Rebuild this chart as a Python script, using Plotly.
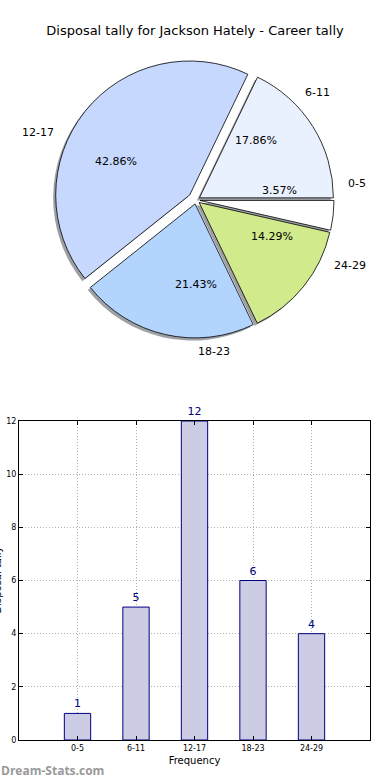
import math
import plotly.graph_objects as go

categories = ["0-5", "6-11", "12-17", "18-23", "24-29"]
tally = [1, 5, 12, 6, 4]
pie_colors = ["#ffffff", "#eaf1fe", "#c6d8fe", "#b3d4fd", "#d0ea8c"]
pulls = [0.03, 0.03, 0.06, 0.03, 0.03]
title_text = "Disposal tally for Jackson Hately - Career tally"

FONT = "DejaVu Sans"
W, H = 390, 780
ML = 19
MR = W - 370
MT = 0
MB = H - 740
PW, PH = W - ML - MR, H - MT - MB


def px_x(sx):
    return (sx - ML) / PW


def px_y(sy):
    return (H - MB - sy) / PH


# pie geometry (screen pixels -> paper)
cx_px, cy_px, r_px = 196, 200, 134
maxpull = max(pulls)
half_px = r_px * (1 + maxpull)
pcx, pcy = px_x(cx_px), px_y(cy_px)
hx, hy = half_px / PW, half_px / PH
pie_dom = dict(x=[pcx - hx, pcx + hx], y=[pcy - hy, pcy + hy])
sdx, sdy = -2.6 / PW, -2.6 / PH
shadow_dom = dict(x=[pcx - hx + sdx, pcx + hx + sdx], y=[pcy - hy + sdy, pcy + hy + sdy])

# text axes: same centre, 1 unit = pie radius, wide enough to hold the labels
lim = 1.25
tx, ty = r_px * lim / PW, r_px * lim / PH
text_dom = dict(x=[pcx - tx, pcx + tx], y=[pcy - ty, pcy + ty])

fig = go.Figure()

# shadow
fig.add_trace(go.Pie(
    values=tally, labels=categories, sort=False, direction="counterclockwise",
    rotation=90, pull=pulls, domain=shadow_dom, textinfo="none", hoverinfo="skip",
    marker=dict(colors=["rgba(60,65,75,0.5)"] * len(tally), line=dict(width=0)),
    showlegend=False))

fig.add_trace(go.Pie(
    values=tally, labels=categories, sort=False, direction="counterclockwise",
    rotation=90, pull=pulls, domain=pie_dom, textinfo="none",
    marker=dict(colors=pie_colors, line=dict(color="black", width=0.8)),
    showlegend=False))

# bar chart
xpos = list(range(len(categories)))
fig.add_trace(go.Bar(
    x=xpos, y=tally, width=0.45, text=[str(v) for v in tally], textposition="outside",
    cliponaxis=False, textfont=dict(family=FONT, size=11, color="#000080"),
    marker=dict(color="#ccccE5", line=dict(color="#000080", width=1)),
    showlegend=False, xaxis="x", yaxis="y"))

# invisible helper scatter so that x2/y2 exist
fig.add_trace(go.Scatter(x=[0], y=[0], mode="none", xaxis="x2", yaxis="y2",
                         hoverinfo="skip", showlegend=False))

# pie text annotations, positioned from the data on the pie's own unit axes
annotations = []
total = sum(tally)
cum = 0
for c, v, p in zip(categories, tally, pulls):
    a0 = cum / total * 2 * math.pi
    cum += v
    a1 = cum / total * 2 * math.pi
    m = (a0 + a1) / 2
    annotations.append(dict(
        text=f"{v / total * 100:.2f}%", xref="x2", yref="y2",
        x=(p + 0.6) * math.cos(m), y=(p + 0.6) * math.sin(m),
        showarrow=False, xanchor="center", yanchor="middle",
        font=dict(family=FONT, size=11, color="black")))
    annotations.append(dict(
        text=c, xref="x2", yref="y2",
        x=(p + 1.1) * math.cos(m), y=(p + 1.1) * math.sin(m),
        showarrow=False, xanchor="left" if math.cos(m) >= -1e-9 else "right",
        yanchor="middle", font=dict(family=FONT, size=11, color="black")))

annotations += [
    dict(text="Disposal tally", xref="paper", yref="paper", x=px_x(-3),
         y=(px_y(421) + px_y(740)) / 2, textangle=-90, showarrow=False,
         xanchor="center", yanchor="middle", font=dict(size=10, color="black")),
    dict(text="<b>Dream-Stats.com</b>", xref="paper", yref="paper", x=px_x(-1),
         y=px_y(770), showarrow=False, xanchor="left", yanchor="middle",
         font=dict(family="Open Sans", size=12, color="#999999")),
]

grid = dict(showgrid=True, gridcolor="#b0b0b0", griddash="1px,2px", gridwidth=1)
fig.update_layout(
    width=W, height=H, margin=dict(l=ML, r=MR, t=MT, b=MB, autoexpand=False),
    paper_bgcolor="white", plot_bgcolor="white",
    font=dict(family=FONT, color="black"),
    title=dict(text=title_text, x=195 / W, xref="container", xanchor="center",
               y=1 - 30 / H, yanchor="middle",
               font=dict(family=FONT, size=13, color="black")),
    xaxis=dict(domain=[0, 1], anchor="y", range=[-1, 5], tickvals=xpos, ticktext=categories,
               showline=True, linecolor="black", linewidth=1, mirror="ticks",
               ticks="inside", ticklen=4, tickcolor="black", automargin=False,
               zeroline=False, tickfont=dict(size=8),
               title=dict(text="Frequency", font=dict(size=10), standoff=5), **grid),
    yaxis=dict(domain=[0, px_y(421)], anchor="x", range=[0, 12], dtick=2,
               showline=True, linecolor="black", linewidth=1, mirror="ticks",
               ticks="inside", ticklen=4, tickcolor="black", automargin=False,
               zeroline=False, tickfont=dict(size=8), **grid),
    xaxis2=dict(domain=text_dom["x"], anchor="y2", range=[-lim, lim], visible=False,
                automargin=False, fixedrange=True),
    yaxis2=dict(domain=text_dom["y"], anchor="x2", range=[-lim, lim], visible=False,
                automargin=False, fixedrange=True),
    annotations=annotations,
)

fig.write_html("out.html", config={"displayModeBar": False},
               post_script="document.body.style.margin='0';document.body.style.overflow='hidden';")
